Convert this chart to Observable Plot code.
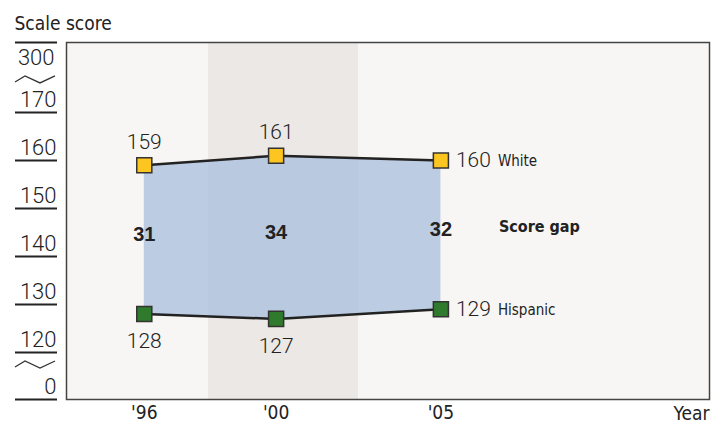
<!DOCTYPE html>
<html><head><meta charset="utf-8">
<script src="https://cdn.jsdelivr.net/npm/d3@7"></script>
<script src="https://cdn.jsdelivr.net/npm/@observablehq/plot@0.6"></script>
<style>body{margin:0;background:#fff}</style>
</head><body><div id="chart"></div>
<script>
// ---- data ----
const years = [1996, 2000, 2005];
const yearLabels = ["'96", "'00", "'05"];
const white = [159, 161, 160];
const hispanic = [128, 127, 129];
const gaps = [31, 34, 32];
const groupNames = ["White", "Hispanic"];
const yTickValues = [120, 130, 140, 150, 160, 170, 110.2];
const yTickLabels = ["120", "130", "140", "150", "160", "170", "0"];
const yTopValue = [184.6];
const yTopLabel = ["300"];
const yBreaks = [176.9, 117.5];
const band = [{x1: 1997.95, x2: 2002.5}];

const rows = years.map((year, i) => ({year, white: white[i], hispanic: hispanic[i], gap: gaps[i]}));
const last = rows[rows.length - 1];
const firstRows = rows.slice(0, -1);

const COND = "'Liberation Sans Narrow','DejaVu Sans Condensed','Roboto Condensed',sans-serif";
const NUM = "Roboto,'Liberation Sans',sans-serif";

const breaksMark = (index, scales) => {
  const g = d3.create("svg:g");
  for (const b of yBreaks) {
    const y = scales.y(b);
    g.append("path")
      .attr("d", `M15,${y + 3}L25,${y - 3}L40,${y + 4}L55,${y - 3}`)
      .attr("fill", "none").attr("stroke", "#333").attr("stroke-width", 1.3);
  }
  return g.node();
};

const chart = Plot.plot({
  width: 725, height: 426,
  marginLeft: 66, marginRight: 16, marginTop: 42, marginBottom: 27,
  style: {background: "#fff", fontFamily: NUM, color: "#222"},
  x: {domain: [1993.64, 2013.15], axis: null},
  y: {domain: [110.2, 184.6], axis: null},
  marks: [
    Plot.frame({fill: "#f7f6f4", stroke: null}),
    Plot.rect(band, {x1: "x1", x2: "x2", fill: "#ece8e5"}),
    Plot.areaY(rows, {x: "year", y1: "hispanic", y2: "white", fill: "#a8bfdd", fillOpacity: 0.75}),
    Plot.line(rows, {x: "year", y: "white", stroke: "#222", strokeWidth: 2.5}),
    Plot.line(rows, {x: "year", y: "hispanic", stroke: "#222", strokeWidth: 2.5}),
    Plot.dot(rows, {x: "year", y: "white", symbol: "square", r: 8.5, fill: "#fdc520", stroke: "#333", strokeWidth: 1.5}),
    Plot.dot(rows, {x: "year", y: "hispanic", symbol: "square", r: 8.5, fill: "#2f7a2c", stroke: "#333", strokeWidth: 1.5}),
    // value labels
    Plot.text(firstRows, {x: "year", y: "white", text: "white", dy: -23, fontSize: 21, fontWeight: 300, fill: "#222"}),
    Plot.text(firstRows, {x: "year", y: "hispanic", text: "hispanic", dy: 27, fontSize: 21, fontWeight: 300, fill: "#222"}),
    Plot.text([last], {x: "year", y: "white", text: "white", dx: 15, textAnchor: "start", fontSize: 21, fontWeight: 300, fill: "#222"}),
    Plot.text([last], {x: "year", y: "hispanic", text: "hispanic", dx: 15, textAnchor: "start", fontSize: 21, fontWeight: 300, fill: "#222"}),
    Plot.text([last], {x: "year", y: "white", text: () => groupNames[0], dx: 57, dy: 1, textAnchor: "start", fontSize: 15, fontFamily: COND, fill: "#222"}),
    Plot.text([last], {x: "year", y: "hispanic", text: () => groupNames[1], dx: 57, dy: 1, textAnchor: "start", fontSize: 15, fontFamily: COND, fill: "#222"}),
    // gap labels
    Plot.text(rows, {x: "year", y: d => (d.white + d.hispanic) / 2, text: "gap", dy: -5, fontSize: 20, fontWeight: "bold", fontFamily: "'Liberation Sans',sans-serif", fill: "#222"}),
    Plot.text([last], {x: "year", y: d => (d.white + d.hispanic) / 2, text: () => "Score gap", dx: 58, dy: -8, textAnchor: "start", fontSize: 16, fontWeight: "bold", fontFamily: COND, fill: "#222"}),
    // y axis
    Plot.axisY(yTickValues.concat(yTopValue), {tickSize: 42, dx: -9, tickFormat: () => "", stroke: "#222", strokeWidth: 2, label: null}),
    Plot.axisY(yTickValues, {tickSize: 0, tickPadding: 10, dy: -13, tickFormat: (d) => yTickLabels[yTickValues.indexOf(d)], fontSize: 22, fontWeight: 300, label: null, fill: "#222"}),
    Plot.axisY(yTopValue, {tickSize: 0, tickPadding: 12, dy: 15, tickFormat: () => yTopLabel[0], fontSize: 22, fontWeight: 300, label: null, fill: "#222"}),
    breaksMark,
    // x axis
    Plot.axisX(years, {tickSize: 0, tickPadding: 6, tickFormat: (d) => yearLabels[years.indexOf(d)], fontSize: 19, fontFamily: COND, label: null, fill: "#222"}),
    Plot.text(["Year"], {frameAnchor: "bottom-right", lineAnchor: "middle", dy: 14, textAnchor: "end", fontSize: 19, fontFamily: COND, fill: "#222"}),
    Plot.text(["Scale score"], {frameAnchor: "top-left", lineAnchor: "middle", dx: -52, dy: -19, textAnchor: "start", fontSize: 19, fontFamily: COND, fill: "#222"}),
    Plot.frame({stroke: "#444", strokeWidth: 1.5})
  ]
});
document.getElementById("chart").appendChild(chart);
</script>
</body></html>
